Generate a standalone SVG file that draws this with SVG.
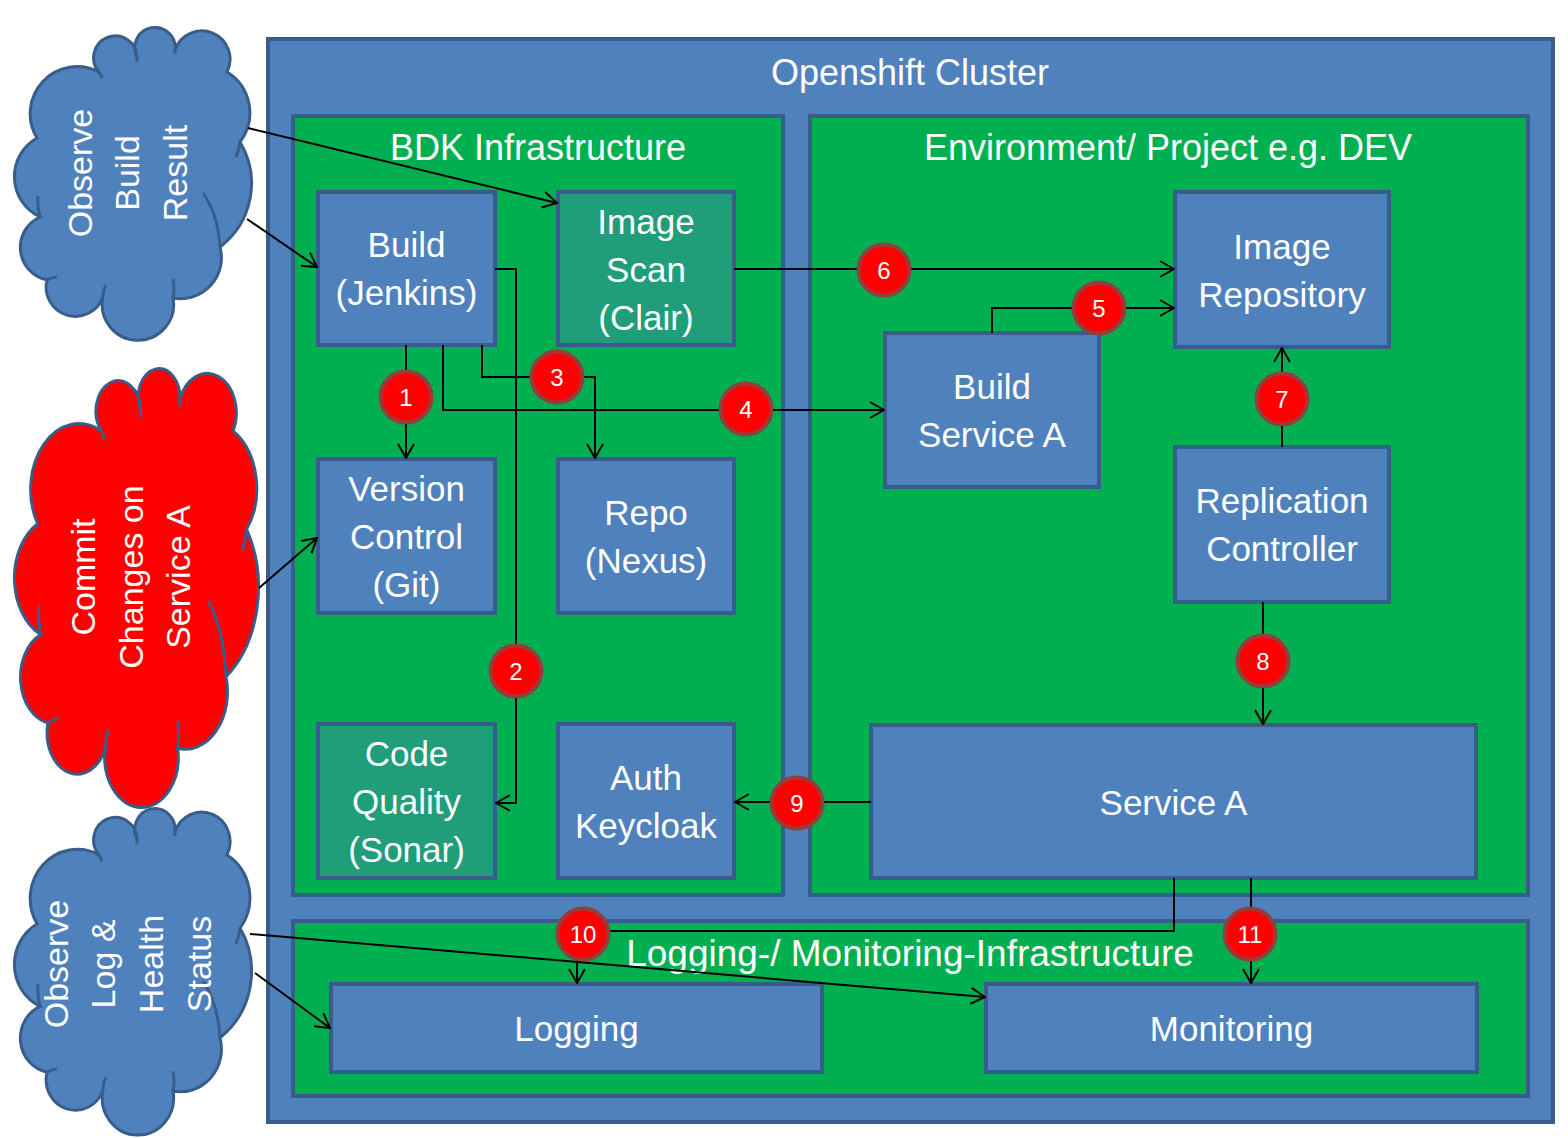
<svg xmlns="http://www.w3.org/2000/svg" xmlns:xlink="http://www.w3.org/1999/xlink" width="1568" height="1138" viewBox="0 0 1568 1138">
<style>
.cont{stroke:#385D8A;stroke-width:4}
.blue{fill:#4F81BD}
.green{fill:#00B050}
.teal{fill:#209E7A}
.node{stroke:#385D8A;stroke-width:4}
.t{font-family:"Liberation Sans",Arial,sans-serif;fill:#FFFFFF;text-anchor:middle}
.nt{font-size:35px}
.tt{font-size:36px}
.ct{font-size:34px}
.conn{fill:none;stroke:#000000;stroke-width:2}
.badge circle{fill:#FF0000;stroke:#963C3C;stroke-width:4}
.badge text{font-family:"Liberation Sans",Arial,sans-serif;font-size:24px;fill:#FFFFFF;text-anchor:middle}
.cl{stroke:#385D8A;stroke-width:3;vector-effect:non-scaling-stroke}
</style>
<defs>
<marker id="arr" viewBox="0 0 16 18" refX="15" refY="9" markerWidth="16" markerHeight="18" markerUnits="userSpaceOnUse" orient="auto">
<path d="M1,1 L15,9 L1,17" fill="none" stroke="#000000" stroke-width="2"/>
</marker>
<g id="cloudShape">
<path class="cl" d="M40,217 A44.5,44.5 0 0 1 37,138 A47,47 0 0 1 99,72 A21.7,21.7 0 1 1 137,57 A20.2,20.2 0 1 1 175,50 A28.3,28.3 0 1 1 227,72 A48,48 0 0 1 240,142 A80,80 0 0 1 220,247 A41,41 0 0 1 173,298 A35.7,35.7 0 1 1 103,297 A29.3,29.3 0 0 1 47,280 A33.3,33.3 0 0 1 40,217 Z"/>
<path class="cl" fill="none" d="M220,247 Q218,214 203,193 M240,142 Q239,150 236,157 M173,298 Q175,288 173,279 M40,217 Q37,205 38,196 M99,72 Q101,75 102,78 M137,57 L137,62 M175,50 L175,54 M103,297 Q103,290 106,285 M47,280 Q52,277 57,277"/>
</g>
</defs>

<g id="cloud-observe-build">
<use xlink:href="#cloudShape" href="#cloudShape" fill="#4F81BD"/>
<text class="t ct" transform="translate(92,173) rotate(-90)">Observe</text>
<text class="t ct" transform="translate(139,173) rotate(-90)">Build</text>
<text class="t ct" transform="translate(187,173) rotate(-90)">Result</text>
</g>
<g id="cloud-commit">
<use xlink:href="#cloudShape" href="#cloudShape" fill="#FF0000" transform="translate(15,368) scale(1.0294,1.4032) translate(-15,-27)"/>
<text class="t ct" transform="translate(95,577) rotate(-90)">Commit</text>
<text class="t ct" transform="translate(143,577) rotate(-90)">Changes on</text>
<text class="t ct" transform="translate(190,577) rotate(-90)">Service A</text>
</g>
<g id="cloud-observe-log">
<use xlink:href="#cloudShape" href="#cloudShape" fill="#4F81BD" transform="translate(15,808) scale(1,1.0444) translate(-15,-27)"/>
<text class="t ct" transform="translate(68,964) rotate(-90)">Observe</text>
<text class="t ct" transform="translate(115,964) rotate(-90)">Log &amp;</text>
<text class="t ct" transform="translate(163,964) rotate(-90)">Health</text>
<text class="t ct" transform="translate(211,964) rotate(-90)">Status</text>
</g>

<g id="openshift-cluster">
<rect class="cont blue" x="268" y="39" width="1285" height="1083"/>
<text class="t tt" x="910" y="85">Openshift Cluster</text>
</g>
<g id="bdk-infrastructure">
<rect class="cont green" x="293" y="116" width="490" height="779"/>
<text class="t tt" x="538" y="160">BDK Infrastructure</text>
</g>
<g id="environment">
<rect class="cont green" x="810" y="116" width="718" height="779"/>
<text class="t tt" x="1168" y="160">Environment/ Project e.g. DEV</text>
</g>
<g id="logging-monitoring-infrastructure">
<rect class="cont green" x="293" y="921" width="1235" height="175"/>
<text class="t tt" x="910" y="966" style="font-size:37px">Logging-/ Monitoring-Infrastructure</text>
</g>

<g id="build-jenkins">
<rect class="node blue" x="318" y="192" width="177" height="153"/>
<text class="t nt" x="406.5" y="257">Build</text>
<text class="t nt" x="406.5" y="305">(Jenkins)</text>
</g>
<g id="image-scan">
<rect class="node teal" x="558" y="192" width="176" height="153"/>
<text class="t nt" x="646" y="234">Image</text>
<text class="t nt" x="646" y="282">Scan</text>
<text class="t nt" x="646" y="330">(Clair)</text>
</g>
<g id="version-control">
<rect class="node blue" x="318" y="459" width="177" height="154"/>
<text class="t nt" x="406.5" y="501">Version</text>
<text class="t nt" x="406.5" y="549">Control</text>
<text class="t nt" x="406.5" y="597">(Git)</text>
</g>
<g id="repo-nexus">
<rect class="node blue" x="558" y="459" width="176" height="154"/>
<text class="t nt" x="646" y="525">Repo</text>
<text class="t nt" x="646" y="573">(Nexus)</text>
</g>
<g id="code-quality">
<rect class="node teal" x="318" y="724" width="177" height="154"/>
<text class="t nt" x="406.5" y="766">Code</text>
<text class="t nt" x="406.5" y="814">Quality</text>
<text class="t nt" x="406.5" y="862">(Sonar)</text>
</g>
<g id="auth-keycloak">
<rect class="node blue" x="558" y="724" width="176" height="154"/>
<text class="t nt" x="646" y="790">Auth</text>
<text class="t nt" x="646" y="838">Keycloak</text>
</g>
<g id="image-repository">
<rect class="node blue" x="1175" y="192" width="214" height="155"/>
<text class="t nt" x="1282" y="259">Image</text>
<text class="t nt" x="1282" y="307">Repository</text>
</g>
<g id="build-service-a">
<rect class="node blue" x="885" y="333" width="214" height="154"/>
<text class="t nt" x="992" y="399">Build</text>
<text class="t nt" x="992" y="447">Service A</text>
</g>
<g id="replication-controller">
<rect class="node blue" x="1175" y="447" width="214" height="155"/>
<text class="t nt" x="1282" y="513">Replication</text>
<text class="t nt" x="1282" y="561">Controller</text>
</g>
<g id="service-a">
<rect class="node blue" x="871" y="725" width="605" height="153"/>
<text class="t nt" x="1173.5" y="815">Service A</text>
</g>
<g id="logging">
<rect class="node blue" x="331" y="984" width="491" height="88"/>
<text class="t nt" x="576.5" y="1041">Logging</text>
</g>
<g id="monitoring">
<rect class="node blue" x="986" y="984" width="491" height="88"/>
<text class="t nt" x="1231.5" y="1041">Monitoring</text>
</g>

<g id="connectors">
<path class="conn" marker-end="url(#arr)" d="M248,128 L557,203"/>
<path class="conn" marker-end="url(#arr)" d="M247,219 L317,267"/>
<path class="conn" marker-end="url(#arr)" d="M259,588 L317,538"/>
<path class="conn" marker-end="url(#arr)" d="M255,973 L330,1028"/>
<path class="conn" marker-end="url(#arr)" d="M250,934 L985,997"/>
<path class="conn" marker-end="url(#arr)" d="M406,345 L406,458"/>
<path class="conn" marker-end="url(#arr)" d="M495,269 L516,269 L516,803 L496,803"/>
<path class="conn" marker-end="url(#arr)" d="M482,345 L482,377 L595,377 L595,458"/>
<path class="conn" marker-end="url(#arr)" d="M443,345 L443,410 L884,410"/>
<path class="conn" marker-end="url(#arr)" d="M992,333 L992,308 L1174,308"/>
<path class="conn" marker-end="url(#arr)" d="M734,269 L1174,269"/>
<path class="conn" marker-end="url(#arr)" d="M1282,447 L1282,348"/>
<path class="conn" marker-end="url(#arr)" d="M1263,602 L1263,724"/>
<path class="conn" marker-end="url(#arr)" d="M871,802 L735,802"/>
<path class="conn" marker-end="url(#arr)" d="M1174,878 L1174,931 L577,931 L577,983"/>
<path class="conn" marker-end="url(#arr)" d="M1251,878 L1251,983"/>
</g>

<g id="badges">
<g class="badge" id="badge-1"><circle cx="406" cy="397" r="25.5"/><text x="406" y="405.5">1</text></g>
<g class="badge" id="badge-2"><circle cx="516" cy="671" r="25.5"/><text x="516" y="679.5">2</text></g>
<g class="badge" id="badge-3"><circle cx="557" cy="377" r="25.5"/><text x="557" y="385.5">3</text></g>
<g class="badge" id="badge-4"><circle cx="746" cy="409" r="25.5"/><text x="746" y="417.5">4</text></g>
<g class="badge" id="badge-5"><circle cx="1099" cy="308" r="25.5"/><text x="1099" y="316.5">5</text></g>
<g class="badge" id="badge-6"><circle cx="884" cy="270" r="25.5"/><text x="884" y="278.5">6</text></g>
<g class="badge" id="badge-7"><circle cx="1282" cy="399" r="25.5"/><text x="1282" y="407.5">7</text></g>
<g class="badge" id="badge-8"><circle cx="1263" cy="661" r="25.5"/><text x="1263" y="669.5">8</text></g>
<g class="badge" id="badge-9"><circle cx="797" cy="803" r="25.5"/><text x="797" y="811.5">9</text></g>
<g class="badge" id="badge-10"><circle cx="583" cy="934" r="25.5"/><text x="583" y="942.5">10</text></g>
<g class="badge" id="badge-11"><circle cx="1250" cy="934" r="25.5"/><text x="1250" y="942.5">11</text></g>
</g>
</svg>
